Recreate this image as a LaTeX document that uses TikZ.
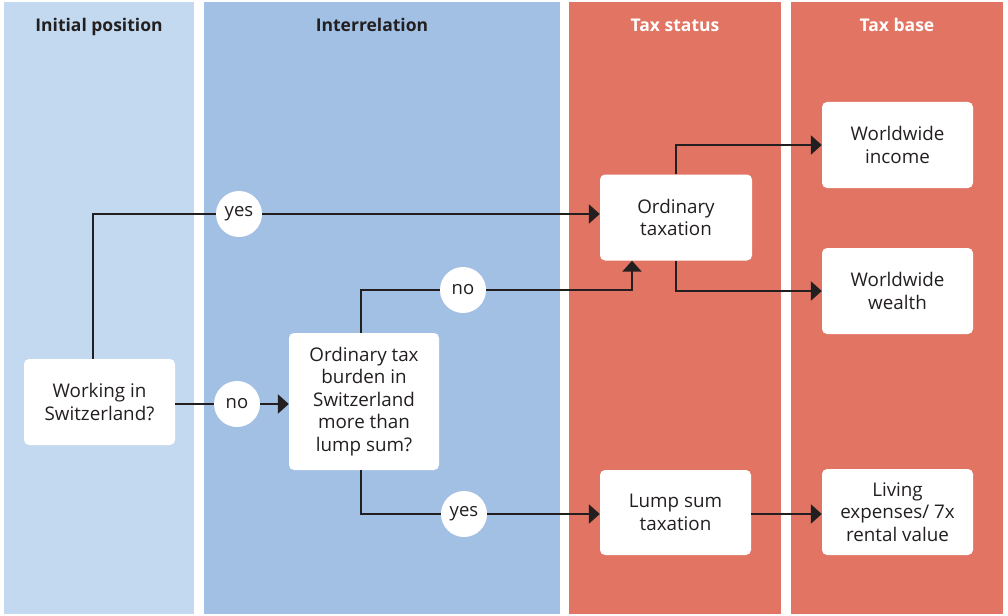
\documentclass[tikz,border=0pt]{standalone}
\usepackage{fontspec}
\setmainfont{Open Sans}
\usetikzlibrary{arrows.meta}
\definecolor{colA}{HTML}{C3D9EF}
\definecolor{colB}{HTML}{A1C0E4}
\definecolor{colR}{HTML}{E17462}
\definecolor{ink}{HTML}{231F20}
\tikzset{
  box/.style={fill=white, rounded corners=5pt, minimum width=151pt, minimum height=86pt, inner sep=0pt, align=center, text=ink, font=\fontsize{18.8}{22.5}\selectfont},
  bubble/.style={circle, fill=white, minimum size=46pt, inner sep=0pt, text=ink, font=\fontsize{18.5}{20}\selectfont},
  head/.style={anchor=base, font=\fontsize{17.5}{20}\selectfont\bfseries},
  line/.style={draw=ink, line width=2.5pt},
  arr/.style={line, -{Triangle[length=11pt,width=19pt]}},
}
\begin{document}
\begin{tikzpicture}[x=1pt,y=-1pt]
\useasboundingbox (0,0) rectangle (1008,615);
\fill[white] (0,0) rectangle (1008,615);
% columns
\fill[colA] (4,2) rectangle (194,614);
\fill[colB] (204,2) rectangle (560,614);
\fill[colR] (569,2) rectangle (781,614);
\fill[colR] (791,2) rectangle (1003,614);
\node[head, text=ink] (h1) at (99,32) {Initial position};
\node[head, text=ink] (h2) at (372,32) {Interrelation};
\node[head, text=white] (h3) at (675,32) {Tax status};
\node[head, text=white] (h4) at (897,32) {Tax base};
% boxes
\node[box] (work) at (99.5,402) {Working in\\Switzerland?};
\node[box, minimum width=150pt, minimum height=137pt] (burden) at (364,401.5) {Ordinary tax\\burden in\\Switzerland\\more than\\lump sum?};
\node[box, minimum width=152pt] (ordtax) at (676,217.5) {Ordinary\\taxation};
\node[box, minimum height=85pt] (lump) at (675.5,512.5) {Lump sum\\taxation};
\node[box] (income) at (897.5,145) {Worldwide\\income};
\node[box] (wealth) at (897.5,291) {Worldwide\\wealth};
\node[box] (living) at (897.5,512) {Living\\expenses/ 7x\\rental value};
% bubbles
\node[bubble] (yes1) at (239,214) {yes};
\node[bubble] (no1) at (237,404) {no};
\node[bubble] (no2) at (463,290) {no};
\node[bubble] (yes2) at (464,514) {yes};
% helper coordinates
\coordinate (cw) at (93,0);
\coordinate (cb) at (361,0);
\coordinate (co) at (632,0);
% connectors
\draw[line] (work.north -| cw) |- (yes1.west);
\draw[arr] (yes1.east) -- (yes1.east -| ordtax.west);
\draw[line] (work.east |- no1) -- (no1.west);
\draw[arr] (no1.east) -- (no1.east -| burden.west);
\draw[line] (burden.north -| cb) |- (no2.west);
\draw[arr] (no2.east) -| (ordtax.south -| co);
\draw[line] (burden.south -| cb) |- (yes2.west);
\draw[arr] (yes2.east) -- (yes2.east -| lump.west);
\draw[arr] (ordtax.north) |- (income.west);
\draw[arr] (ordtax.south) |- (wealth.west);
\draw[arr] (lump.east |- yes2) -- (lump.east |- yes2 -| living.west);
\end{tikzpicture}
\end{document}
